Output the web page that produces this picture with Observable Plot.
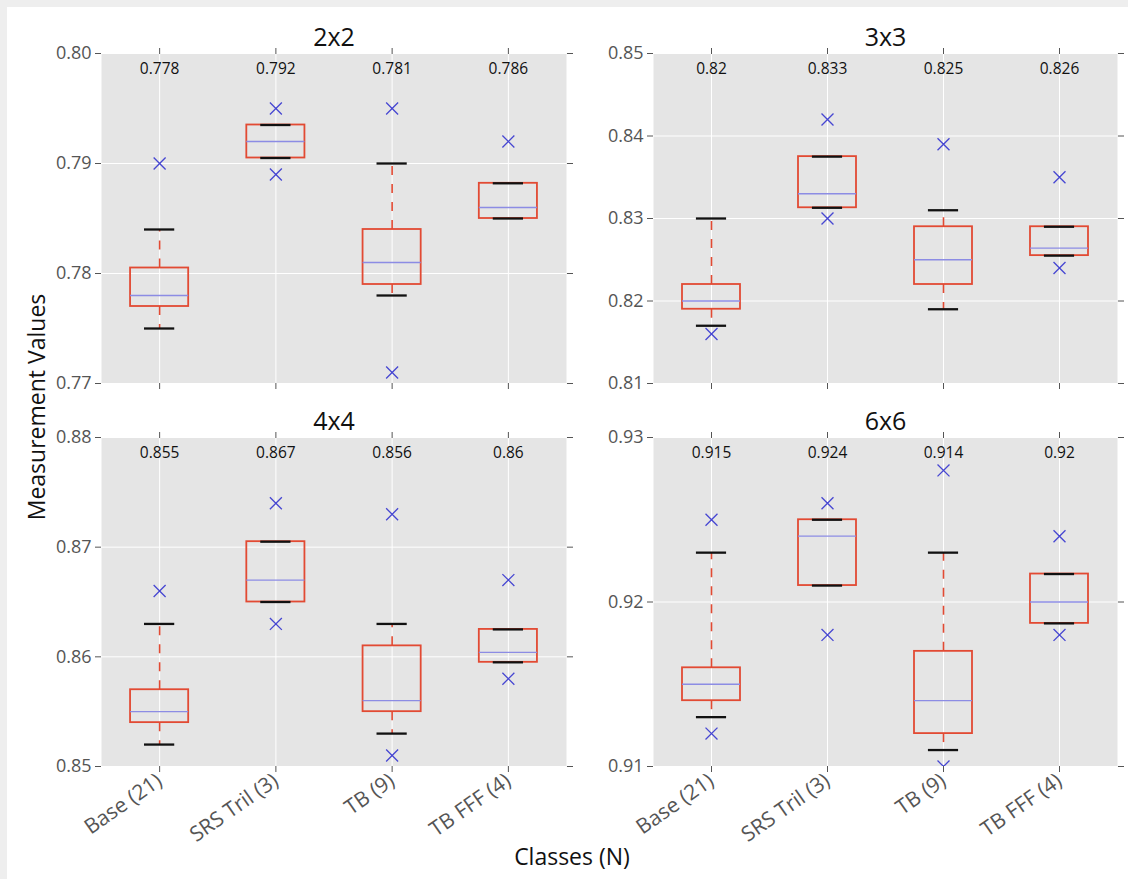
<!DOCTYPE html>
<html>
<head>
<meta charset="utf-8">
<script src="https://cdn.jsdelivr.net/npm/d3@7"></script>
<script src="https://cdn.jsdelivr.net/npm/@observablehq/plot@0.6"></script>
<style>
  html, body { margin: 0; padding: 0; background: #fff; }
  #page { position: relative; width: 1128px; height: 879px; background: #eeeeee; overflow: hidden; font-family: "Open Sans", sans-serif; }
  #sheet { position: absolute; left: 7px; top: 7px; right: 0; bottom: 0; background: #fff; }
  .panel { position: absolute; }
  .panel svg { overflow: visible; display: block; }
  #labels { position: absolute; left: 0; top: 0; pointer-events: none; }
</style>
</head>
<body>
<div id="page"><div id="sheet"></div></div>
<script>
// Categories on the x axis
const classes = ["Base (21)", "SRS Tril (3)", "TB (9)", "TB FFF (4)"];
const classPositions = [1, 2, 3, 4];

// 2x2 grid size
const title2x2 = "2x2";
const yTicks2x2 = [0.77, 0.78, 0.79, 0.80];
const lowCap2x2 = [0.775, 0.7905, 0.778, 0.785];
const q1_2x2 = [0.777, 0.7905, 0.779, 0.785];
const median2x2 = [0.778, 0.792, 0.781, 0.786];
const q3_2x2 = [0.7805, 0.7935, 0.784, 0.7882];
const highCap2x2 = [0.784, 0.7935, 0.790, 0.7882];
const fliers2x2 = [[0.790], [0.795, 0.789], [0.795, 0.771], [0.792]];

// 3x3 grid size
const title3x3 = "3x3";
const yTicks3x3 = [0.81, 0.82, 0.83, 0.84, 0.85];
const lowCap3x3 = [0.817, 0.8313, 0.819, 0.8255];
const q1_3x3 = [0.819, 0.8313, 0.822, 0.8255];
const median3x3 = [0.820, 0.833, 0.825, 0.8264];
const q3_3x3 = [0.822, 0.8375, 0.829, 0.829];
const highCap3x3 = [0.830, 0.8375, 0.831, 0.829];
const fliers3x3 = [[0.816], [0.842, 0.830], [0.839], [0.835, 0.824]];

// 4x4 grid size
const title4x4 = "4x4";
const yTicks4x4 = [0.85, 0.86, 0.87, 0.88];
const lowCap4x4 = [0.852, 0.865, 0.853, 0.8595];
const q1_4x4 = [0.854, 0.865, 0.855, 0.8595];
const median4x4 = [0.855, 0.867, 0.856, 0.8604];
const q3_4x4 = [0.857, 0.8705, 0.861, 0.8625];
const highCap4x4 = [0.863, 0.8705, 0.863, 0.8625];
const fliers4x4 = [[0.866], [0.874, 0.863], [0.873, 0.851], [0.867, 0.858]];

// 6x6 grid size
const title6x6 = "6x6";
const yTicks6x6 = [0.91, 0.92, 0.93];
const lowCap6x6 = [0.913, 0.921, 0.911, 0.9187];
const q1_6x6 = [0.914, 0.921, 0.912, 0.9187];
const median6x6 = [0.915, 0.924, 0.914, 0.920];
const q3_6x6 = [0.916, 0.925, 0.917, 0.9217];
const highCap6x6 = [0.923, 0.925, 0.923, 0.9217];
const fliers6x6 = [[0.925, 0.912], [0.926, 0.918], [0.928, 0.910], [0.924, 0.918]];

const BOX_RED = "#e24a33";
const MEDIAN_BLUE = "#8c8ce4";
const FLIER_BLUE = "#4646d2";
const TICK_GREY = "#555555";

function boxPanel(p) {
  const idx = d3.range(classes.length);
  const px = i => classPositions[i];
  const flierRows = p.fliers.flatMap((vals, i) => vals.map(v => ({x: classPositions[i], y: v})));
  const fmtMedian = v => String(+v.toFixed(3));
  return Plot.plot({
    width: p.W, height: p.H,
    marginLeft: p.x0 - p.ox, marginRight: p.ox + p.W - p.x1,
    marginTop: p.y0 - p.oy, marginBottom: p.oy + p.H - p.y1,
    style: {fontFamily: "Open Sans, sans-serif", background: "transparent", overflow: "visible"},
    x: {type: "linear", domain: [0.5, 4.5]},
    y: {type: "linear", domain: [p.yTicks[0], p.yTicks[p.yTicks.length - 1]]},
    marks: [
      Plot.frame({fill: "#e5e5e5"}),
      Plot.gridY(p.yTicks, {stroke: "white", strokeOpacity: 1, strokeWidth: 1}),
      Plot.gridX(classPositions, {stroke: "white", strokeOpacity: 1, strokeWidth: 1}),
      // whiskers, dashed, running from the box edge out to the cap
      Plot.ruleX(idx, {x: px, y1: i => p.q3[i], y2: i => p.highCap[i], stroke: BOX_RED, strokeWidth: 1.6, strokeDasharray: "9,9"}),
      Plot.ruleX(idx, {x: px, y1: i => p.q1[i], y2: i => p.lowCap[i], stroke: BOX_RED, strokeWidth: 1.6, strokeDasharray: "9,9"}),
      // interquartile box
      Plot.rect(idx, {x1: i => px(i) - 0.25, x2: i => px(i) + 0.25, y1: i => p.q1[i], y2: i => p.q3[i], fill: "none", stroke: BOX_RED, strokeWidth: 1.8}),
      // median
      Plot.ruleY(idx, {x1: i => px(i) - 0.25, x2: i => px(i) + 0.25, y: i => p.median[i], stroke: MEDIAN_BLUE, strokeWidth: 1.3}),
      // caps
      Plot.ruleY(idx, {x1: i => px(i) - 0.13, x2: i => px(i) + 0.13, y: i => p.highCap[i], stroke: "#111", strokeWidth: 2.3}),
      Plot.ruleY(idx, {x1: i => px(i) - 0.13, x2: i => px(i) + 0.13, y: i => p.lowCap[i], stroke: "#111", strokeWidth: 2.3}),
      // outliers
      Plot.dot(flierRows, {x: "x", y: "y", symbol: "times", r: 5.5, stroke: FLIER_BLUE, strokeWidth: 1.3, clip: true}),
      // median value annotations along the top
      Plot.text(idx, {x: px, text: i => fmtMedian(p.median[i]), frameAnchor: "top", lineAnchor: "middle", dy: 16, fontSize: 15.5, fill: "#111"}),
      // panel title
      Plot.text([p.title], {frameAnchor: "top", dy: -8, lineAnchor: "bottom", fontSize: 25, fill: "#111"}),
      // axes: ticks on all four sides, labels left and (bottom row) bottom
      Plot.axisY(p.yTicks, {anchor: "left", tickFormat: d3.format(".2f"), tickSize: 6, tickPadding: 4, fontSize: 18, color: TICK_GREY, label: null}),
      Plot.axisY(p.yTicks, {anchor: "right", tickFormat: () => "", tickSize: 6, color: TICK_GREY, label: null}),
      Plot.axisX(classPositions, {anchor: "top", tickFormat: () => "", tickSize: 6, color: TICK_GREY, label: null}),
      Plot.axisX(classPositions, {anchor: "bottom", tickFormat: p.showX ? (v => classes[v - 1]) : (() => ""), tickRotate: -35, tickSize: 6, tickPadding: 6, fontSize: 21, color: TICK_GREY, label: null})
    ]
  });
}

const panels = [
  {title: title2x2, yTicks: yTicks2x2, lowCap: lowCap2x2, q1: q1_2x2, median: median2x2, q3: q3_2x2, highCap: highCap2x2, fliers: fliers2x2,
   ox: 8, oy: 8, W: 588, H: 405, x0: 101, x1: 566, y0: 53, y1: 383, showX: false},
  {title: title3x3, yTicks: yTicks3x3, lowCap: lowCap3x3, q1: q1_3x3, median: median3x3, q3: q3_3x3, highCap: highCap3x3, fliers: fliers3x3,
   ox: 598, oy: 8, W: 530, H: 405, x0: 653, x1: 1117, y0: 53, y1: 383, showX: false},
  {title: title4x4, yTicks: yTicks4x4, lowCap: lowCap4x4, q1: q1_4x4, median: median4x4, q3: q3_4x4, highCap: highCap4x4, fliers: fliers4x4,
   ox: 8, oy: 413, W: 588, H: 466, x0: 101, x1: 566, y0: 437, y1: 766, showX: true},
  {title: title6x6, yTicks: yTicks6x6, lowCap: lowCap6x6, q1: q1_6x6, median: median6x6, q3: q3_6x6, highCap: highCap6x6, fliers: fliers6x6,
   ox: 598, oy: 413, W: 530, H: 466, x0: 653, x1: 1117, y0: 437, y1: 766, showX: true}
];

const page = document.getElementById("page");
for (const p of panels) {
  const div = document.createElement("div");
  div.className = "panel";
  div.style.left = p.ox + "px";
  div.style.top = p.oy + "px";
  div.appendChild(boxPanel(p));
  page.appendChild(div);
}

// Shared axis titles
const overlay = d3.select(page).append("svg")
  .attr("id", "labels").attr("width", 1128).attr("height", 879);
overlay.append("text")
  .attr("transform", "translate(45,407) rotate(-90)")
  .attr("text-anchor", "middle")
  .attr("font-family", "Open Sans, sans-serif").attr("font-size", 23).attr("fill", "#111")
  .text("Measurement Values");
overlay.append("text")
  .attr("x", 572).attr("y", 865)
  .attr("text-anchor", "middle")
  .attr("font-family", "Open Sans, sans-serif").attr("font-size", 23).attr("fill", "#111")
  .text("Classes (N)");
</script>
</body>
</html>
